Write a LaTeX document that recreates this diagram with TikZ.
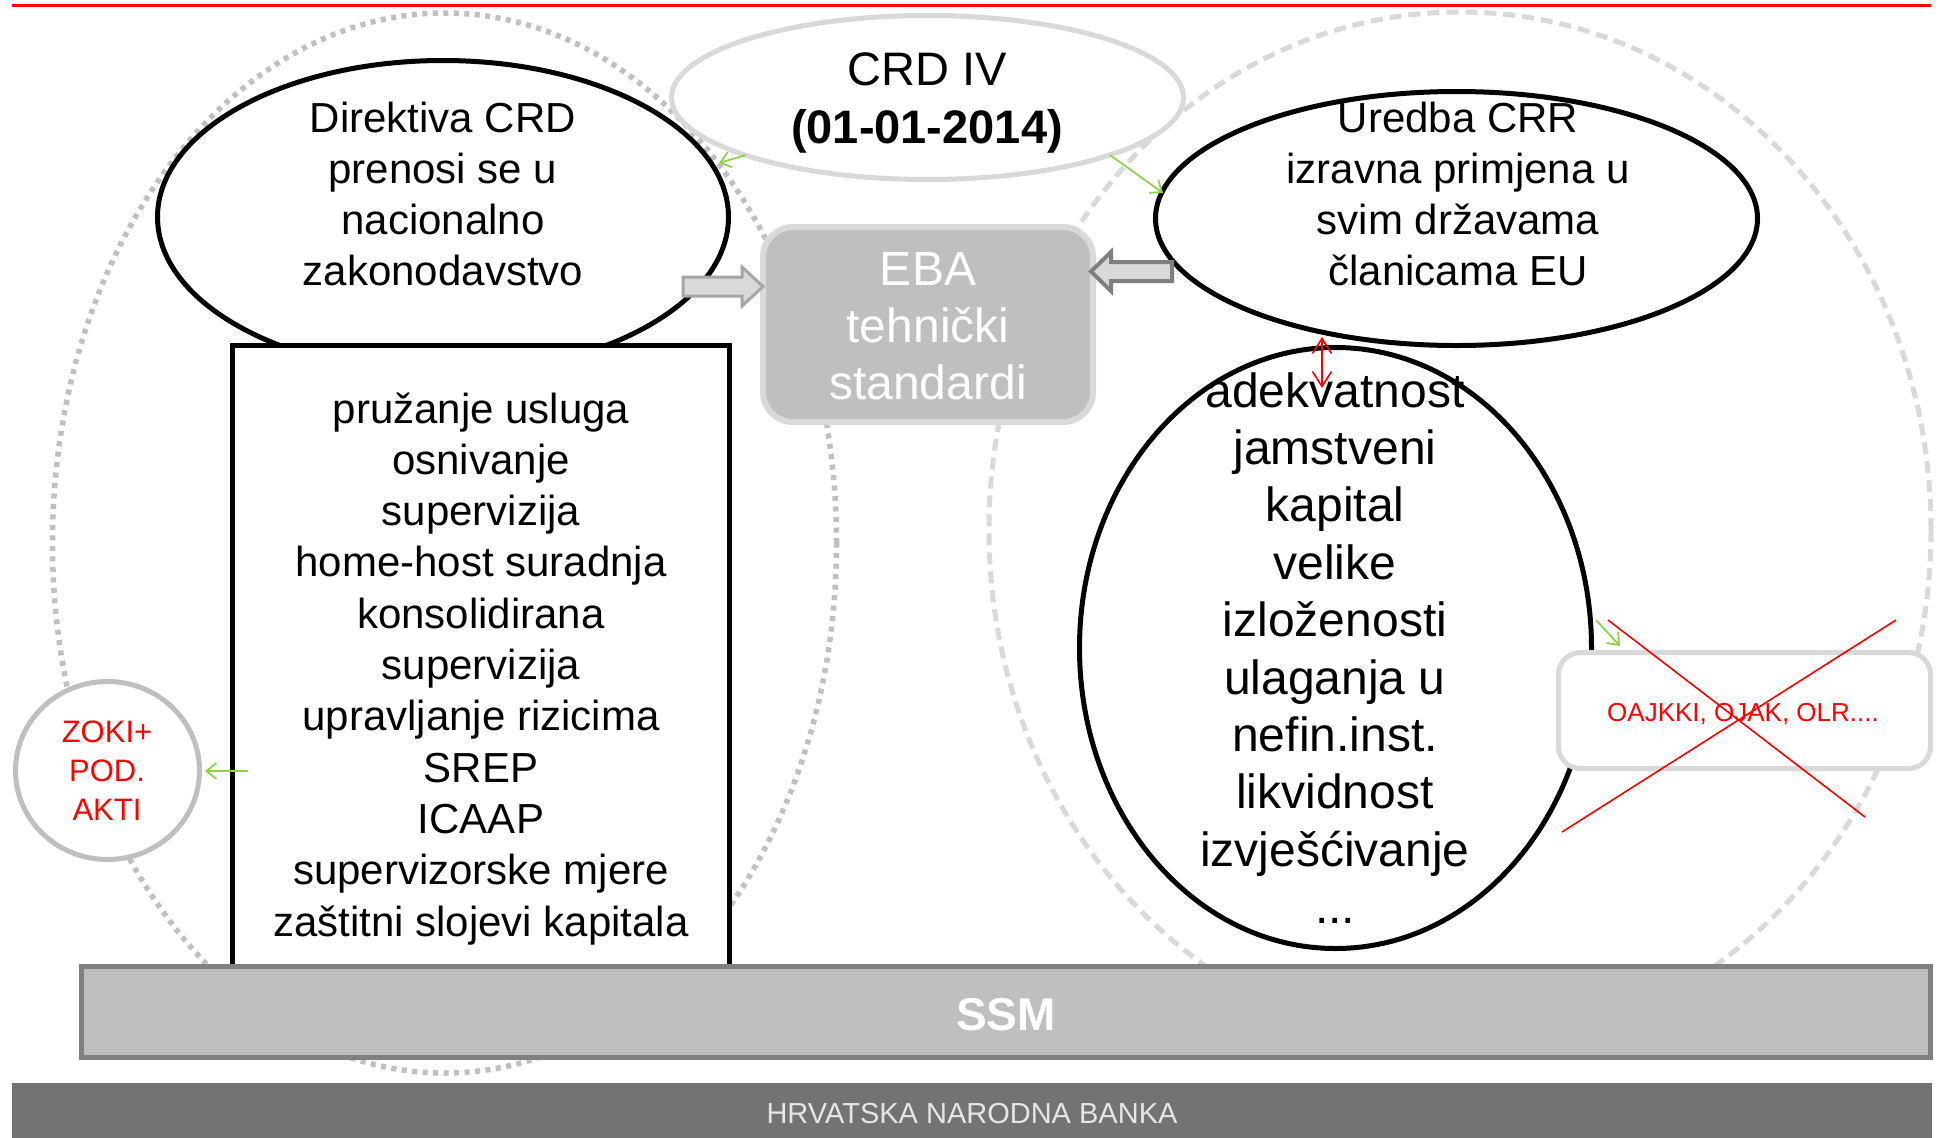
\documentclass[tikz,border=0pt]{standalone}
\usepackage{fontspec}
\setmainfont{Liberation Sans}
\usetikzlibrary{arrows.meta,shapes.geometric}
\definecolor{cRed}{HTML}{FF0000}
\definecolor{cFoot}{HTML}{737373}
\definecolor{cFootTxt}{HTML}{E6E6E6}
\definecolor{cMid}{HTML}{BFBFBF}
\definecolor{cLight}{HTML}{D9D9D9}
\definecolor{cDark}{HTML}{808080}
\definecolor{cDot}{HTML}{C0C0C0}
\definecolor{cGreen}{HTML}{92D050}
\definecolor{cEdgeA}{HTML}{A6A6A6}
\definecolor{cEdgeB}{HTML}{7F7F7F}
\begin{document}
\begin{tikzpicture}[x=1pt,y=-1pt,
  every node/.style={inner sep=0pt,outer sep=0pt},
  ell/.style={ellipse,fill=white,line width=5pt},
  ln/.style={anchor=base},
  fA/.style={font=\fontsize{42}{50}\selectfont},
  fB/.style={font=\fontsize{48}{56}\selectfont},
  garr/.style={draw=cGreen,line width=1.8pt,-{Straight Barb[length=10pt,width=16pt]}},
  rarr/.style={draw=cRed,line width=1.6pt,{Straight Barb[length=15pt,width=19pt]}-{Straight Barb[length=15pt,width=19pt]}},
  xline/.style={draw=cRed,line width=1.6pt},
  blockarrow/.style={fill=cLight,line join=miter}
]
\useasboundingbox (0,0) rectangle (1939,1138);
\fill[white] (0,0) rectangle (1939,1138);

% top red rule
\coordinate (rl) at (12,5.5);
\coordinate (rr) at (1931,5.5);
\draw[cRed,line width=3.5pt] (rl) -- (rr);

% background zones
\node[ellipse,draw=cDot,line width=5.5pt,dash pattern=on 5pt off 5.5pt,minimum width=784pt,minimum height=1060pt] (lzone) at (444.5,543) {};
\node[ellipse,draw=cLight,line width=5pt,dash pattern=on 12pt off 7pt,minimum width=942pt,minimum height=1036pt] (rzone) at (1460,530) {};

% CRD IV
\node[ell,draw=cLight,minimum width=512pt,minimum height=164pt] (crd) at (927.5,97.5) {};
\node[ln,font=\fontsize{47}{56}\selectfont] (crdA) at (927,85) {CRD IV};
\node[ln,font=\fontsize{47}{56}\selectfont\bfseries] (crdB) at (927,143) {(01-01-2014)};

% Direktiva CRD
\node[ell,draw=black,minimum width=571pt,minimum height=313pt] (direk) at (443,217) {};
\foreach \t [count=\i] in {Direktiva CRD,prenosi se u,nacionalno,zakonodavstvo}
  \node[ln,fA] (dir\i) at (443,{132+(\i-1)*51}) {\t};

% text box
\node[rectangle,draw=black,fill=white,line width=5pt,minimum width=497pt,minimum height=621pt] (tbox) at (481,655.5) {};
\foreach \t [count=\i] in {pružanje usluga,osnivanje,supervizija,home-host suradnja,konsolidirana,supervizija,upravljanje rizicima,SREP,ICAAP,supervizorske mjere,zaštitni slojevi kapitala}
  \node[ln,fA] (tb\i) at (481,{423+(\i-1)*51.3}) {\t};

% EBA
\node[rectangle,rounded corners=30pt,draw=cLight,fill=cMid,line width=6pt,minimum width=330pt,minimum height=195pt] (eba) at (928,324.5) {};
\foreach \t [count=\i] in {EBA,tehnički,standardi}
  \node[ln,fB,text=white] (eba\i) at (928,{285+(\i-1)*57}) {\t};

% Uredba CRR
\node[ell,draw=black,minimum width=602pt,minimum height=254pt] (uredba) at (1456.5,218.5) {};
\foreach \t [count=\i] in {Uredba CRR,izravna primjena u,svim državama,članicama EU}
  \node[ln,fA] (ur\i) at (1458,{132+(\i-1)*51}) {\t};

% adekvatnost
\node[ell,draw=black,minimum width=512pt,minimum height=601pt] (adek) at (1335.5,648) {};
\foreach \t [count=\i] in {adekvatnost,jamstveni,kapital,velike,izloženosti,ulaganja u,nefin.inst.,likvidnost,izvješćivanje}
  \node[ln,fB] (ad\i) at (1335,{407+(\i-1)*57.4}) {\t};
\node[ln,fB] (ad10) at (1335,923.6) {...};

% OAJKKI box
\node[rectangle,rounded corners=22pt,draw=cLight,fill=white,line width=5pt,minimum width=372pt,minimum height=116pt] (oaj) at (1744.5,710.5) {};
\node[ln,text=cRed,font=\fontsize{26}{30}\selectfont] (oajT) at (1743,721) {OAJKKI, OJAK, OLR....};

% ZOKI circle
\node[ellipse,draw=cMid,fill=white,line width=5pt,minimum width=184pt,minimum height=178pt] (zoki) at (107.5,770.5) {};
\foreach \t [count=\i] in {ZOKI+,POD.,AKTI}
  \node[ln,text=cRed,font=\fontsize{31}{36}\selectfont] (zk\i) at (107,{742+(\i-1)*39}) {\t};

% block arrows
\coordinate (ba1) at (683,286.5);
\draw[blockarrow,draw=cEdgeA,line width=3pt] (ba1) ++(0,-9.5) -- ++(59,0) -- ++(0,-10) -- ++(21,19.5) -- ++(-21,19.5) -- ++(0,-10) -- ++(-59,0) -- cycle;
\coordinate (ba2) at (1172,271.5);
\draw[blockarrow,draw=cEdgeB,line width=4pt] (ba2) ++(0,-9.5) -- ++(-61,0) -- ++(0,-10) -- ++(-20,19.5) -- ++(20,19.5) -- ++(0,-10) -- ++(61,0) -- cycle;

% green arrows
\coordinate (g1s) at (746,155);   \coordinate (g1e) at (719,163);
\coordinate (g2s) at (1110,155);  \coordinate (g2e) at (1163,193);
\coordinate (g3s) at (248,771);   \coordinate (g3e) at (205,771);
\coordinate (g4s) at (1596,620);  \coordinate (g4e) at (1620,646);
\draw[garr] (g1s) -- (g1e);
\draw[garr] (g2s) -- (g2e);
\draw[garr] (g3s) -- (g3e);
\draw[garr] (g4s) -- (g4e);

% red double arrow
\coordinate (r1) at (1322,337);
\coordinate (r2) at (1322,388);
\draw[rarr] (r1) -- (r2);

% red cross
\coordinate (x1a) at (1608,620); \coordinate (x1b) at (1865,817);
\coordinate (x2a) at (1896,620); \coordinate (x2b) at (1562,832);
\draw[xline] (x1a) -- (x1b);
\draw[xline] (x2a) -- (x2b);

% SSM bar
\node[rectangle,draw=cDark,fill=cMid,line width=5pt,minimum width=1849pt,minimum height=91pt] (ssm) at (1005.5,1012) {};
\node[ln,text=white,font=\fontsize{46}{50}\selectfont\bfseries] (ssmT) at (1006,1030) {SSM};

% footer
\node[rectangle,fill=cFoot,minimum width=1920pt,minimum height=55pt] (foot) at (972,1110.5) {};
\node[ln,text=cFootTxt,font=\fontsize{29}{32}\selectfont] (footT) at (972,1123) {HRVATSKA NARODNA BANKA};
\end{tikzpicture}
\end{document}
